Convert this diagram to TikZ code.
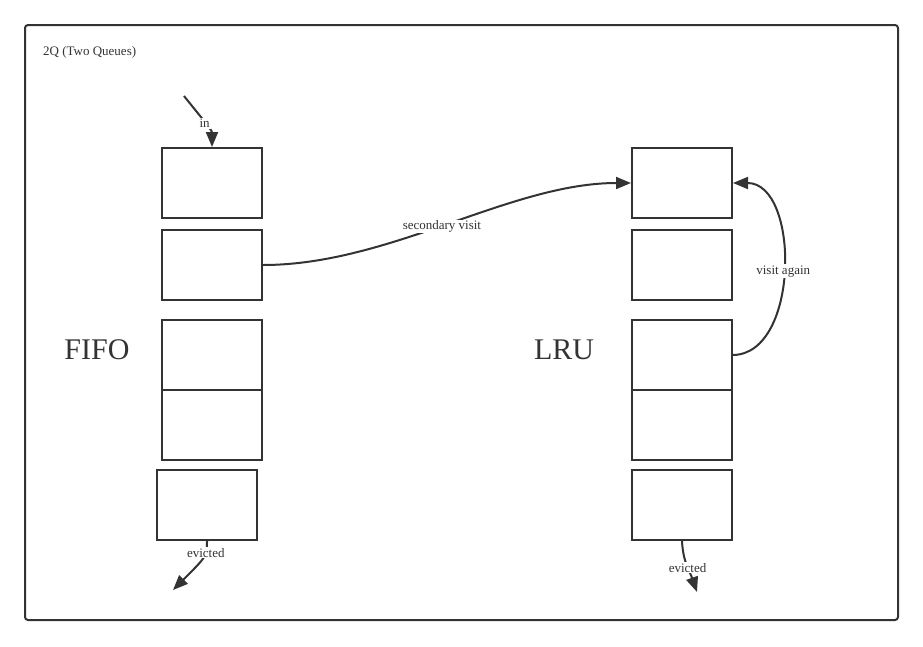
\documentclass[tikz,border=0pt]{standalone}
\usepackage{fontspec}
\setmainfont{Liberation Serif}
\usetikzlibrary{arrows.meta}

\definecolor{ink}{HTML}{333333}

\tikzset{
  cell/.style    = {draw=ink, line width=2pt, fill=white, minimum width=100pt,
                    minimum height=70pt, inner sep=0pt},
  qname/.style   = {text=ink, font=\fontsize{30}{32}\selectfont, inner sep=0pt},
  flow/.style    = {draw=ink, line width=2pt, -{Triangle[length=15pt,width=12pt]}},
  flowlabel/.style = {fill=white, text=ink, font=\fontsize{13}{14}\selectfont,
                    inner sep=1pt}
}

\begin{document}
\begin{tikzpicture}[x=1pt, y=-1pt]
  \useasboundingbox (0,0) rectangle (923,646);

% frame

\draw[ink, line width=2pt, rounded corners=3pt] (25,25) rectangle (898,620);
\node[anchor=west, text=ink, font=\fontsize{13}{14}\selectfont, inner sep=0pt]
  (title) at (43,52) {2Q (Two Queues)};

% fifo queue

\node[qname] (fifo) at (97,350) {FIFO};
\node[cell] (fifoA) at (212,183) {};
\node[cell] (fifoB) at (212,265) {};
\node[cell] (fifoC) at (212,355) {};
\node[cell] (fifoD) at (212,425) {};
\node[cell] (fifoE) at (207,505) {};

% lru queue

\node[qname] (lru) at (564,350) {LRU};
\node[cell] (lruA) at (682,183) {};
\node[cell] (lruB) at (682,265) {};
\node[cell] (lruC) at (682,355) {};
\node[cell] (lruD) at (682,425) {};
\node[cell] (lruE) at (682,505) {};

% free ends

\coordinate (src)   at (184,96);
\coordinate (outF)  at (173,590);
\coordinate (outL)  at (697,592);

% arrows

\draw[flow] (src) .. controls (200,116) and (212,130) .. (fifoA.north)
  node[flowlabel, pos=0.52] {in};
\draw[flow] (fifoB.east) .. controls (390,265) and (510,183) .. (lruA.west)
  node[flowlabel, pos=0.48] {secondary visit};
\draw[flow] (lruC.east) .. controls (800,354) and (800,183) .. (lruA.east)
  node[flowlabel, pos=0.49] {visit again};
\draw[flow] (fifoE.south) .. controls (207,556) .. (outF)
  node[flowlabel, pos=0.33] {evicted};
\draw[flow] (lruE.south) .. controls (683,562) and (690,572) .. (outL)
  node[flowlabel, pos=0.52] {evicted};

\end{tikzpicture}
\end{document}
